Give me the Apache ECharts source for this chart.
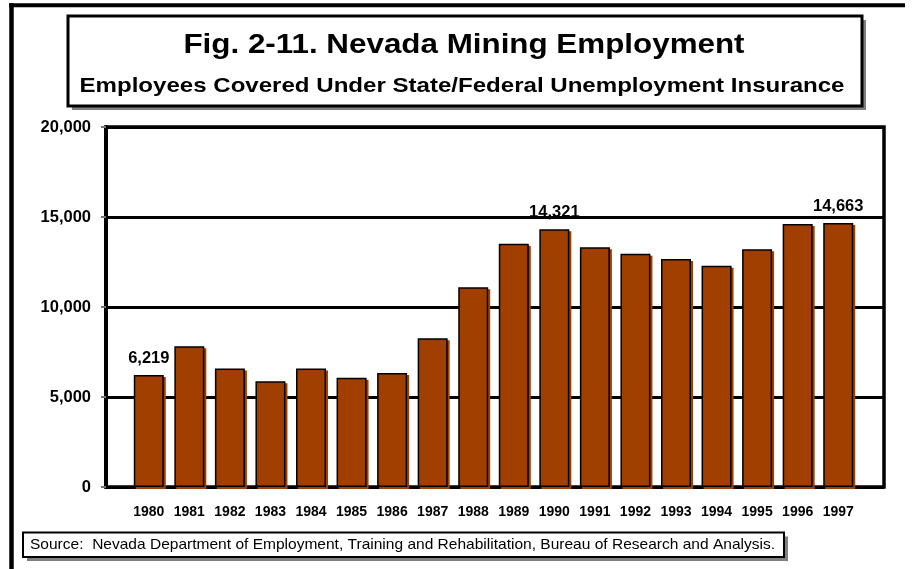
<!DOCTYPE html>
<html>
<head>
<meta charset="utf-8">
<script src="https://cdn.jsdelivr.net/npm/echarts@6/dist/echarts.min.js"></script>
<style>
  html, body { margin: 0; padding: 0; background: #fff; }
  #chart { width: 913px; height: 569px; }
</style>
</head>
<body>
<div id="chart"></div>
<script>
// Nevada mining employment, 1980-1997
const years = ['1980','1981','1982','1983','1984','1985','1986','1987','1988',
               '1989','1990','1991','1992','1993','1994','1995','1996','1997'];
const employees = [6219, 7820, 6590, 5870, 6590, 6075, 6335, 8260, 11100,
                   13515, 14321, 13325, 12960, 12660, 12290, 13215, 14610, 14663];
// years whose value is printed above the bar
const labelledYears = ['1980', '1990', '1997'];
const yTicks = [0, 5000, 10000, 15000, 20000];

const titleText = 'Fig. 2-11. Nevada Mining Employment';
const subtitleText = 'Employees Covered Under State/Federal Unemployment Insurance';
const sourceText = 'Source:  Nevada Department of Employment, Training and Rehabilitation, Bureau of Research and Analysis.';

const FONT = '"Liberation Sans", Arial, Helvetica, sans-serif';
const BROWN = '#A03F00';

const fmt = v => v.toLocaleString('en-US');

const chart = echarts.init(document.getElementById('chart'), null, { renderer: 'canvas' });

chart.setOption({
  animation: false,
  backgroundColor: '#fff',
  grid: [
    // frame with horizontal rules
    { left: 106, top: 127, width: 778, height: 360, show: true,
      borderColor: '#000', borderWidth: 3.5, backgroundColor: 'transparent' },
    // band that holds the bars
    { left: 128.5, top: 127, width: 730, height: 360 }
  ],
  xAxis: [
    { type: 'value', gridIndex: 0, min: 0, max: 1, show: false },
    { type: 'category', gridIndex: 1, data: years,
      axisLine: { show: false }, axisTick: { show: false },
      axisLabel: { margin: 18, color: '#000', fontFamily: FONT,
                   fontWeight: 'bold', fontSize: 14 } }
  ],
  yAxis: [
    { type: 'value', gridIndex: 0, min: yTicks[0], max: yTicks[yTicks.length - 1], interval: 5000,
      axisLine: { show: true, lineStyle: { color: '#000', width: 4 } },
      axisTick: { show: true, length: 5, lineStyle: { color: '#777', width: 2 } },
      splitLine: { show: true, lineStyle: { color: '#000', width: 3 } },
      axisLabel: { margin: 15, color: '#000', fontFamily: FONT, fontWeight: 'bold',
                   fontSize: 16.5, formatter: v => fmt(v) } },
    { type: 'value', gridIndex: 1, min: 0, max: 20000, show: false }
  ],
  series: [{
    type: 'bar',
    xAxisIndex: 1,
    yAxisIndex: 1,
    barWidth: 30,
    data: employees.map((v, i) => ({
      value: v,
      label: {
        show: labelledYears.includes(years[i]),
        position: 'top',
        distance: 8,
        formatter: p => fmt(p.value),
        color: '#000',
        fontFamily: FONT,
        fontWeight: 'bold',
        fontSize: 16.5
      }
    })),
    itemStyle: {
      color: BROWN,
      borderColor: '#000',
      borderWidth: 1.5,
      shadowColor: BROWN,
      shadowOffsetX: 2,
      shadowOffsetY: 2,
      shadowBlur: 0
    }
  }],
  graphic: [
    // page frame (top and left edges)
    { type: 'line', shape: { x1: 9, y1: 5.3, x2: 905, y2: 5.3 },
      style: { stroke: '#000', lineWidth: 4 } },
    { type: 'line', shape: { x1: 11.5, y1: 3.3, x2: 11.5, y2: 569 },
      style: { stroke: '#000', lineWidth: 4.5 } },

    // title box with drop shadow
    { type: 'rect', shape: { x: 72, y: 20, width: 794, height: 90 },
      style: { fill: '#808080' } },
    { type: 'rect', shape: { x: 68, y: 16, width: 794, height: 90 },
      style: { fill: '#fff', stroke: '#000', lineWidth: 3 } },
    { type: 'text', x: 464, y: 45, scaleX: 1.12,
      style: { text: titleText, fill: '#000', font: 'bold 28px ' + FONT,
               textAlign: 'center', textVerticalAlign: 'middle' } },
    { type: 'text', x: 462, y: 86, scaleX: 1.146,
      style: { text: subtitleText, fill: '#000', font: 'bold 21px ' + FONT,
               textAlign: 'center', textVerticalAlign: 'middle' } },

    // source note box with drop shadow
    { type: 'rect', shape: { x: 27, y: 536.5, width: 761, height: 24.5 },
      style: { fill: '#808080' } },
    { type: 'rect', shape: { x: 23, y: 532.5, width: 761, height: 24.5 },
      style: { fill: '#fff', stroke: '#000', lineWidth: 2 } },
    { type: 'text', x: 30, y: 545, scaleX: 1.035,
      style: { text: sourceText, fill: '#000', font: '15px ' + FONT,
               textAlign: 'left', textVerticalAlign: 'middle' } }
  ]
});
</script>
</body>
</html>
